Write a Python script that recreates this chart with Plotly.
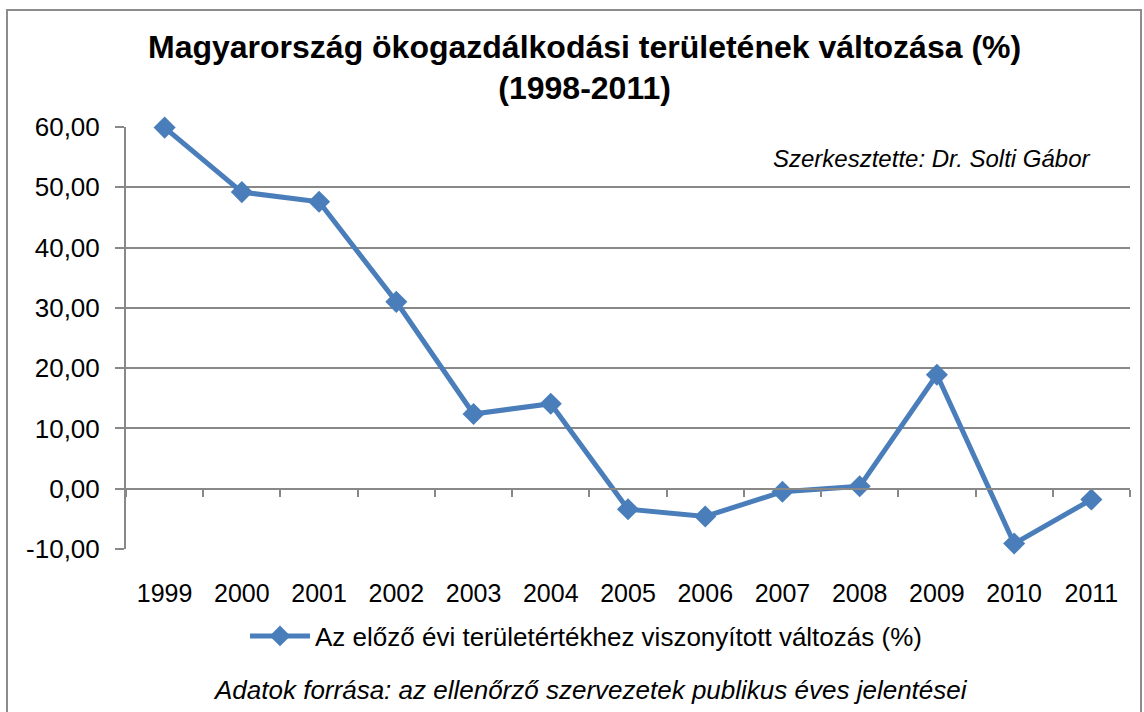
import plotly.graph_objs as go

years = ['1999', '2000', '2001', '2002', '2003', '2004', '2005',
         '2006', '2007', '2008', '2009', '2010', '2011']
change_pct = [59.9, 49.2, 47.6, 31.0, 12.4, 14.1, -3.4,
              -4.6, -0.5, 0.4, 18.9, -9.1, -1.8]
y_ticks = [-10, 0, 10, 20, 30, 40, 50, 60]
y_labels = ['-10,00', '0,00', '10,00', '20,00', '30,00', '40,00', '50,00', '60,00']

series_name = 'Az előző évi területértékhez viszonyított változás (%)'
blue = '#4a7ebb'
grid = '#888888'
font = 'Liberation Sans, Arial, sans-serif'

# plot area in pixels: x 126..1130, y 127..549
pw, ph = 1004, 422

fig = go.Figure()
fig.add_trace(go.Scatter(
    x=years, y=change_pct, name=series_name, mode='lines+markers',
    line=dict(color=blue, width=5), cliponaxis=False,
    marker=dict(symbol='diamond', size=17, color=blue)
))
# helper trace for the category axis drawn at y=0
fig.add_trace(go.Scatter(
    x=years, y=change_pct, xaxis='x2', mode='lines', opacity=0,
    showlegend=False, hoverinfo='skip'
))

fig.update_layout(
    width=1144, height=712,
    paper_bgcolor='white', plot_bgcolor='white',
    margin=dict(l=126, r=14, t=127, b=163),
    font=dict(family=font, color='black'),
    title=dict(
        text='<b>Magyarország ökogazdálkodási területének változása (%)<br>(1998-2011)</b>',
        x=0.511, xanchor='center', y=0.919, yanchor='middle',
        font=dict(size=32)
    ),
    xaxis=dict(
        type='category', showgrid=False, showline=False, zeroline=False,
        ticks='outside', ticklen=22, tickcolor='rgba(0,0,0,0)',
        tickfont=dict(size=25), range=[-0.5, 12.5]
    ),
    xaxis2=dict(
        type='category', overlaying='x', anchor='free', position=1 / 7,
        matches='x', showgrid=False, showline=True, linecolor=grid, linewidth=2,
        ticks='outside', ticklen=7, tickcolor=grid, tickwidth=1.5,
        tickson='boundaries', showticklabels=False
    ),
    yaxis=dict(
        range=[-10, 60], tickvals=y_ticks, ticktext=y_labels,
        showgrid=True, gridcolor=grid, gridwidth=1.5, zeroline=False,
        showline=True, linecolor=grid, linewidth=2,
        ticks='outside', ticklen=9, tickcolor=grid, tickwidth=1.5,
        ticklabelstandoff=10, tickfont=dict(size=26)
    ),
    legend=dict(
        orientation='h', x=(586 - 126) / pw, xanchor='center',
        y=(549 - 636) / ph, yanchor='middle',
        font=dict(size=26), itemwidth=60, bgcolor='rgba(0,0,0,0)'
    ),
    annotations=[
        dict(text='<i>Szerkesztette: Dr. Solti Gábor</i>', xref='paper', yref='paper',
             x=(1093 - 126) / pw, y=(549 - 158) / ph, xanchor='right', yanchor='middle',
             showarrow=False, font=dict(size=24)),
        dict(text='<i>Adatok forrása: az ellenőrző szervezetek publikus éves jelentései</i>',
             xref='paper', yref='paper', x=(590 - 126) / pw, y=(549 - 690) / ph,
             xanchor='center', yanchor='middle', showarrow=False, font=dict(size=26)),
    ],
    shapes=[
        dict(type='rect', xref='paper', yref='paper',
             x0=(7 - 126) / pw, x1=(1141 - 126) / pw,
             y0=(549 - 720) / ph, y1=(549 - 10) / ph,
             line=dict(color='#8c8c8c', width=2), layer='below'),
    ]
)

fig.write_html('out.html', config={'displayModeBar': False},
               post_script="document.body.style.margin='0';")
